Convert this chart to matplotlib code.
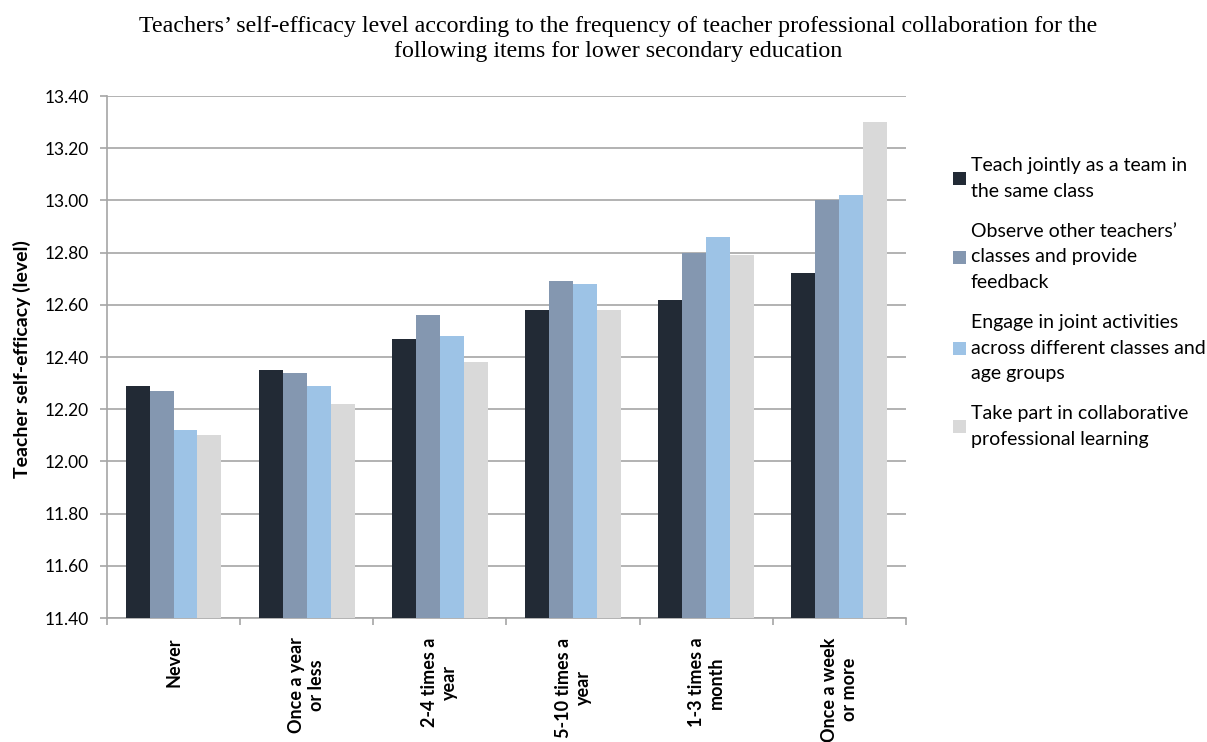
import matplotlib
matplotlib.use("Agg")
import matplotlib.pyplot as plt
import numpy as np

categories = ["Never", "Once a year\nor less", "2-4 times a\nyear", "5-10 times a\nyear",
              "1-3 times a\nmonth", "Once a week\nor more"]
series_names = ["Teach jointly as a team in\nthe same class",
                "Observe other teachers\u2019\nclasses and provide\nfeedback",
                "Engage in joint activities\nacross different classes and\nage groups",
                "Take part in collaborative\nprofessional learning"]
teach_jointly = [12.29, 12.35, 12.47, 12.58, 12.62, 12.72]
observe = [12.27, 12.34, 12.56, 12.69, 12.80, 13.00]
engage = [12.12, 12.29, 12.48, 12.68, 12.86, 13.02]
collab_learning = [12.10, 12.22, 12.38, 12.58, 12.79, 13.30]
yticks = [11.40, 11.60, 11.80, 12.00, 12.20, 12.40, 12.60, 12.80, 13.00, 13.20, 13.40]

colors = ["#222a35", "#8497b0", "#9dc3e6", "#d9d9d9"]
font = "Lato"

fig = plt.figure(figsize=(12.07, 7.42), dpi=100)
ax = fig.add_axes([0.0886, 0.1671, 0.662, 0.7035])

x = np.arange(len(categories))
w = 0.18
data = [teach_jointly, observe, engage, collab_learning]
for i, (vals, c, name) in enumerate(zip(data, colors, series_names)):
    ax.bar(x + (i - 1.5) * w, np.array(vals) - 11.4, width=w, bottom=11.4,
           color=c, label=name, zorder=3)

ax.set_xlim(-0.5, len(categories) - 0.5)
ax.set_ylim(11.4, 13.4)
ax.set_yticks(yticks)
ax.set_yticklabels([f"{v:.2f}" for v in yticks], fontsize=12.5, family=font)
ax.yaxis.grid(True, color="#a6a6a6", linewidth=1.2, zorder=0)
ax.tick_params(axis="y", length=5, color="#a6a6a6", width=1.2, pad=8)

ax.set_xticks(x)
ax.set_xticklabels(categories, rotation=90, fontsize=13, fontweight="bold",
                   family=font, va="top", ha="center", multialignment="center")
ax.tick_params(axis="x", length=0, pad=14)
ax.set_xticks(np.arange(len(categories) + 1) - 0.5, minor=True)
ax.tick_params(axis="x", which="minor", length=5, color="#a6a6a6", width=1.2)

for s in ["top", "right"]:
    ax.spines[s].set_visible(False)
for s in ["left", "bottom"]:
    ax.spines[s].set_color("#a6a6a6")
    ax.spines[s].set_linewidth(1.2)

ax.set_ylabel("Teacher self-efficacy (level)", fontsize=14, fontweight="bold", family=font)
ax.yaxis.set_label_coords(-0.095, 0.497)

fig.text(0.512, 0.978, "Teachers\u2019 self-efficacy level according to the frequency of teacher professional collaboration for the\nfollowing items for lower secondary education",
         ha="center", va="top", fontsize=17.3, family="Liberation Serif", linespacing=1.2)

leg = ax.legend(loc="upper left", bbox_to_anchor=(1.0375, 0.916), frameon=False,
                prop={"family": font, "size": 14}, handlelength=0.65, handleheight=0.65,
                handletextpad=0.25, labelspacing=1.2)
for t in leg.get_texts():
    t.set_linespacing(1.6)

fig.savefig("out.png", dpi=100)
